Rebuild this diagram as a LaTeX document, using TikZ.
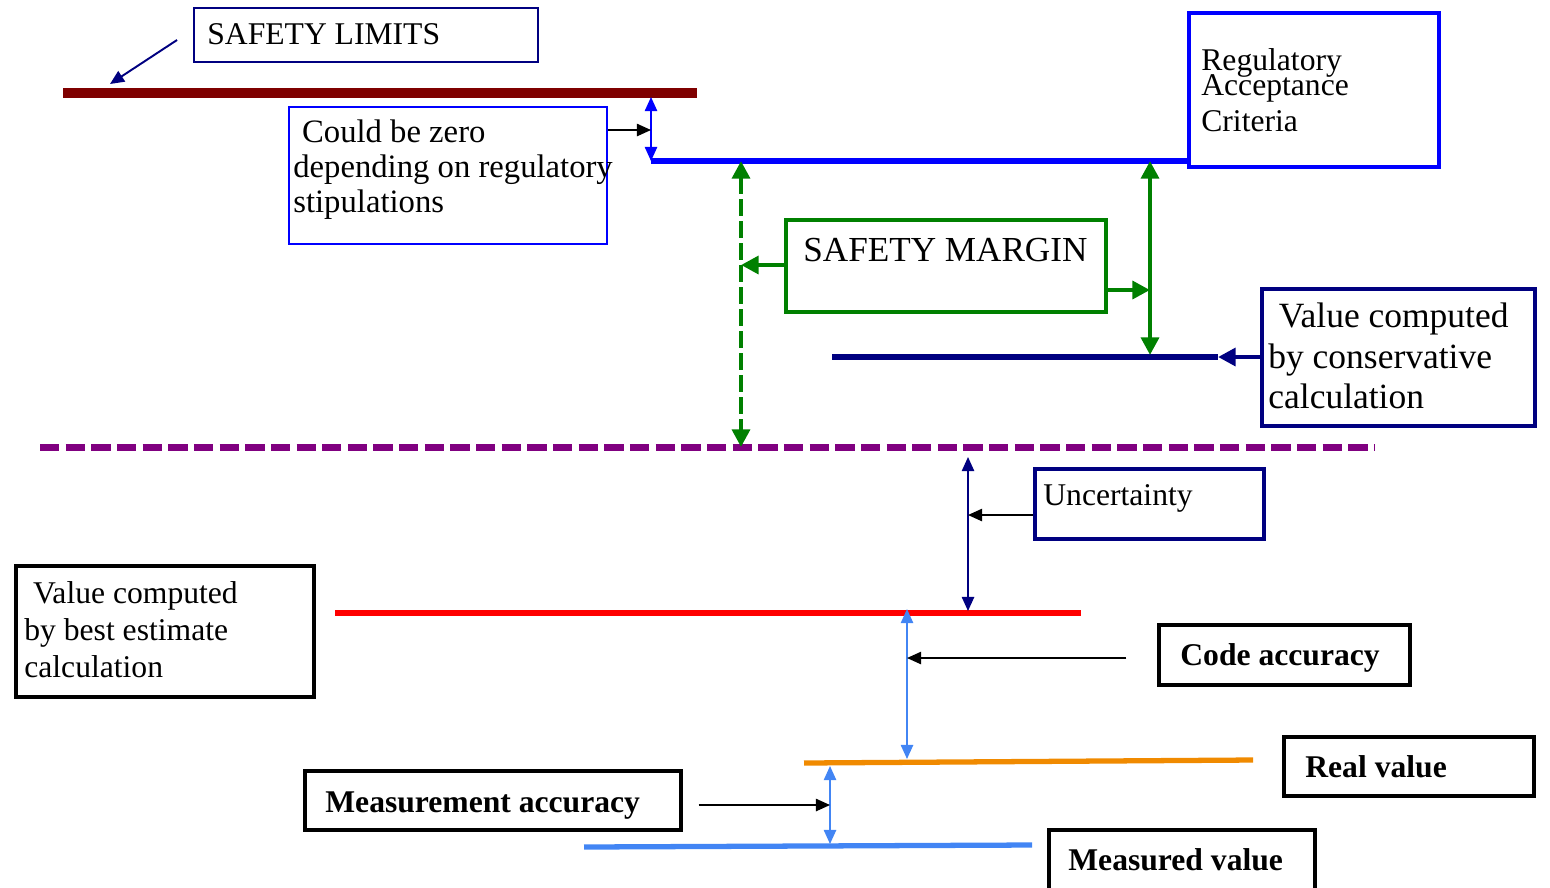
\documentclass[tikz,border=0pt]{standalone}
\usepackage{fontspec}
\setmainfont{Liberation Serif}
\usetikzlibrary{arrows.meta,fit,calc}
\definecolor{limred}{HTML}{7F0000}
\definecolor{regblue}{HTML}{0000FF}
\definecolor{navyblue}{HTML}{000080}
\definecolor{safegreen}{HTML}{008000}
\definecolor{bandpurple}{HTML}{800080}
\definecolor{estred}{HTML}{FF0000}
\definecolor{realorange}{HTML}{F08A00}
\definecolor{measblue}{HTML}{4285F4}

\begin{document}
\begin{tikzpicture}[
  x=0.02cm, y=-0.02cm,
  >={Triangle[length=8pt,width=7pt]},
  bx/.style={draw, inner sep=0pt, line width=2.8pt},
  thinbx/.style={bx, line width=1.1pt},
  txt/.style={inner sep=0pt, align=left, font=\fontsize{18}{21}\selectfont},
  btxt/.style={txt, font=\fontsize{18}{21}\selectfont\bfseries},
  lvl/.style={line width=3pt},
  dim/.style={<->, line width=0.9pt},
  ptr/.style={->, line width=0.9pt, draw=black},
  fat/.style={line width=2.8pt, draw=safegreen, -{Triangle[length=10pt,width=10pt]}},
  fatdim/.style={fat, {Triangle[length=10pt,width=10pt]}-{Triangle[length=10pt,width=10pt]}},
]
\useasboundingbox (0,0) rectangle (1550,887);

% ---- Boxes ----
\node[thinbx, draw=navyblue, fit={(194,8) (538,62)}]     (lim)    {};
\node[thinbx, draw=regblue, fit={(289,107) (607,244)}]   (could)  {};
\node[bx, draw=regblue, fit={(1189,13) (1439,167)}]      (reg)    {};
\node[bx, draw=safegreen, fit={(786,220) (1106,312)}]    (margin) {};
\node[bx, draw=navyblue, fit={(1262,289) (1535,426)}]    (cons)   {};
\node[bx, draw=navyblue, line width=2.4pt, fit={(1035,469) (1264,539)}] (unc) {};
\node[bx, draw=black, fit={(16,566) (314,697)}]          (best)   {};
\node[bx, draw=black, line width=1.8pt, fit={(1159,625) (1410,685)}] (code) {};
\node[bx, draw=black, line width=1.8pt, fit={(1284,737) (1534,796)}] (real) {};
\node[bx, draw=black, line width=1.8pt, fit={(305,771) (681,830)}]   (meas) {};
\node[bx, draw=black, line width=1.8pt, fit={(1049,830) (1315,905)}] (mval) {};

% ---- Box texts ----
\node[txt, anchor=base west] (limtxt) at (207,44) {SAFETY LIMITS};
\node[txt, anchor=north west, font=\fontsize{18.6}{20}\selectfont] (couldtxt) at (293,119)
      {\hspace*{5pt}Could be zero\\depending on regulatory\\stipulations};
\node[txt, anchor=north west, font=\fontsize{18}{20.4}\selectfont] (regtxt) at (1201,48)
      {Regulatory\\[-5.8pt]Acceptance\\Criteria};
\node[txt, anchor=base west, font=\fontsize{20}{23}\selectfont] (margintxt) at (803,261) {SAFETY MARGIN};
\node[txt, anchor=north west, font=\fontsize{20.2}{23}\selectfont] (constxt) at (1268,303)
      {\hspace*{6pt}Value computed\\by conservative\\calculation};
\node[txt, anchor=base west] (unctxt) at (1043,505) {Uncertainty};
\node[txt, anchor=north west] (besttxt) at (24,581)
      {\hspace*{5pt}Value computed\\by best estimate\\calculation};
\node[btxt, anchor=base west] (codetxt) at (1180,665) {Code accuracy};
\node[btxt, anchor=base west] (realtxt) at (1305,777) {Real value};
\node[btxt, anchor=base west] (meastxt) at (325,812) {Measurement accuracy};
\node[btxt, anchor=base west] (mvaltxt) at (1068,870) {Measured value};

% ---- Levels ----
\coordinate (limL)  at (63,93);   \coordinate (limR)  at (697,93);
\coordinate (accL)  at (651,161);
\coordinate (conL)  at (832,357); \coordinate (conR)  at (1218,357);
\coordinate (bandL) at (40,447);  \coordinate (bandR) at (1375,447);
\coordinate (beL)   at (335,613); \coordinate (beR)   at (1081,613);
\coordinate (realL) at (804,763); \coordinate (realR) at (1253,760);
\coordinate (mvL)   at (584,847); \coordinate (mvR)   at (1032,845);

\draw[lvl, limred, line width=5.8pt] (limL) -- (limR);
\draw[lvl, regblue] (accL) -- (reg.west |- accL);
\draw[lvl, navyblue, line width=3.4pt] (conL) -- (conR);
\draw[bandpurple, line width=4pt, dash pattern=on 11pt off 3.6pt] (bandL) -- (bandR);
\draw[lvl, estred] (beL) -- (beR);
\draw[lvl, realorange] (realL) -- (realR);
\draw[lvl, measblue] (mvL) -- (mvR);

% ---- Safety limits pointer and regulatory gap ----
\draw[->, navyblue, line width=1.1pt] ($(lim.west)+(-16,5)$) -- ($(limL)+(47,-9)$);
\coordinate (gapT) at (651,97);
\draw[dim, regblue] (gapT) -- (accL);
\draw[ptr] (could.east |- 0,130) -- (gapT |- 0,130);

% ---- Safety margin ----
\coordinate (mDash)  at (741,161);
\coordinate (mSolid) at (1150,161);
\draw[fatdim, dash pattern=on 9.5pt off 3pt] (mDash) -- (mDash |- bandL);
\draw[fatdim] (mSolid) -- (mSolid |- 0,355);
\draw[fat] (margin.west |- 0,265) -- (mDash |- 0,265);
\draw[fat] (margin.east |- 0,290) -- (mSolid |- 0,290);
\draw[navyblue, line width=2.8pt, -{Triangle[length=10pt,width=10pt]}] (cons.west |- conR) -- (conR);

% ---- Uncertainty ----
\coordinate (uT) at (968,457);
\draw[dim, navyblue] (uT) -- (uT |- 0,611);
\draw[ptr] (unc.west |- 0,515) -- (uT |- 0,515);

% ---- Code and measurement accuracy ----
\coordinate (cT) at (907,609);
\draw[dim, measblue] (cT) -- (cT |- 0,759);
\draw[ptr] ($(code.west |- 0,658)+(-31,0)$) -- (cT |- 0,658);
\coordinate (mT) at (830,766);
\draw[dim, measblue] (mT) -- (mT |- 0,844);
\draw[ptr] ($(meas.east |- 0,805)+(16,0)$) -- (mT |- 0,805);
\end{tikzpicture}
\end{document}
